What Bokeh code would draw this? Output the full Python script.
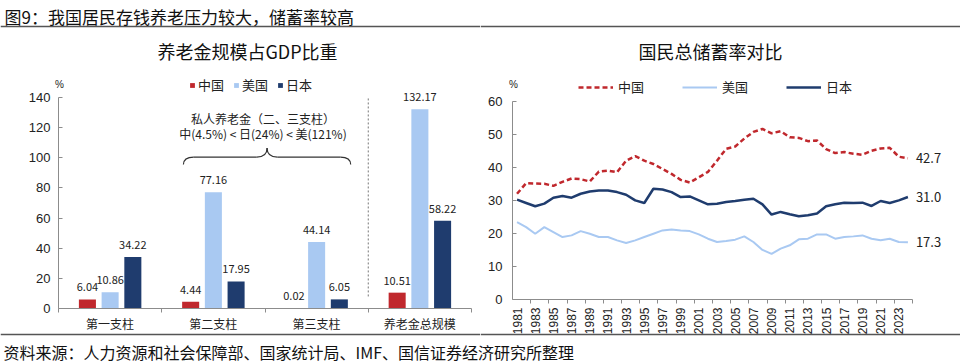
import math
from bokeh.plotting import figure
from bokeh.models import (Range1d, FixedTicker, Legend, LegendItem, Label, LabelSet,
                          ColumnDataSource)
from bokeh.layouts import column, row
from bokeh.transform import dodge
from bokeh.embed import file_html
from bokeh.resources import INLINE
from bokeh.core.properties import value

# ---------------- data ----------------
page_title = "图9：我国居民存钱养老压力较大，储蓄率较高"
source_note = "资料来源：人力资源和社会保障部、国家统计局、IMF、国信证券经济研究所整理"

left_title = "养老金规模占GDP比重"
pillars = ["第一支柱", "第二支柱", "第三支柱", "养老金总规模"]
china_pension = [6.04, 4.44, 0.02, 10.51]
us_pension = [10.86, 77.16, 44.14, 132.17]
japan_pension = [34.22, 17.95, 6.05, 58.22]
brace_note_1 = "私人养老金（二、三支柱）"
brace_note_2 = "中(4.5%) < 日(24%) < 美(121%)"
left_yticks = [0, 20, 40, 60, 80, 100, 120, 140]

right_title = "国民总储蓄率对比"
years = list(range(1981, 2025))
china_saving = [32.0, 35.2, 35.1, 35.0, 34.4, 35.6, 36.6, 36.4, 35.7, 38.7,
                39.0, 38.5, 42.0, 43.4, 42.0, 41.0, 39.5, 38.0, 36.2, 35.4,
                37.0, 38.6, 42.0, 45.6, 46.3, 48.7, 50.7, 51.6, 50.3, 50.9,
                49.1, 48.9, 47.9, 48.1, 45.5, 44.3, 44.6, 44.1, 43.8, 45.0,
                45.7, 45.9, 43.2, 42.7]
us_saving = [23.4, 21.9, 19.9, 21.9, 20.4, 18.9, 19.4, 20.7, 19.9, 18.9,
             18.9, 17.9, 17.1, 17.9, 18.9, 19.9, 20.9, 21.2, 20.9, 20.7,
             19.7, 18.4, 17.4, 17.7, 18.1, 19.1, 17.4, 15.0, 13.8, 15.4,
             16.4, 18.2, 18.4, 19.7, 19.7, 18.4, 18.9, 19.1, 19.4, 18.4,
             17.9, 18.4, 17.4, 17.3]
japan_saving = [30.2, 29.2, 28.2, 29.0, 30.8, 31.3, 30.8, 32.0, 32.7, 33.0,
                33.0, 32.5, 31.7, 30.0, 29.2, 33.5, 33.3, 32.5, 31.0, 31.2,
                30.0, 28.8, 29.0, 29.5, 29.8, 30.2, 30.5, 28.8, 25.7, 26.5,
                25.8, 25.2, 25.5, 26.0, 28.2, 28.8, 29.3, 29.2, 29.3, 28.3,
                29.8, 29.2, 30.0, 31.0]
right_yticks = [0, 10, 20, 30, 40, 50, 60]
year_ticks = years[::2]
series_names = ["中国", "美国", "日本"]

# ---------------- styles ----------------
CJK = "Noto Sans CJK SC"
NUM = "Liberation Sans"
RED = "#C0282D"
LBLUE = "#A9C9F2"
NAVY = "#1F3C6E"
AXIS = "#8C8C8C"
TXT = "#222222"
RULE = "#555555"

BODY_H = 339          # height of the two chart panels (page px)
PANEL_W = 480
HEADER_RULE_Y = 26    # page px
FOOTER_RULE_Y = 334


def bare(fig):
    fig.grid.visible = False
    fig.outline_line_color = None
    fig.background_fill_color = "white"
    fig.border_fill_color = "white"


# ---------------- left panel geometry (page px <-> data) ----------------
L_X0, L_XPU = 58, 103.25      # page x of category 0, px per category
L_Y0, L_YPU = 308, 1.5071     # page y of value 0, px per unit


def lx(px):
    return (px - L_X0) / L_XPU


def ly(py):
    return (L_Y0 - py) / L_YPU


p1 = figure(width=PANEL_W, height=BODY_H,
            x_range=Range1d(lx(0), lx(PANEL_W)), y_range=Range1d(ly(BODY_H), ly(0)),
            output_backend="svg", toolbar_location=None, min_border=0)
bare(p1)

centers = [i + 0.5 for i in range(len(pillars))]
src = ColumnDataSource(dict(
    x=centers, cn=china_pension, us=us_pension, jp=japan_pension,
    cn_l=["%.2f" % v for v in china_pension],
    us_l=["%.2f" % v for v in us_pension],
    jp_l=["%.2f" % v for v in japan_pension],
))
OFF = 0.22
BW = 0.165
r_cn = p1.vbar(x=dodge("x", -OFF), top="cn", width=BW, source=src, fill_color=RED, line_color=None)
r_us = p1.vbar(x=dodge("x", 0), top="us", width=BW, source=src, fill_color=LBLUE, line_color=None)
r_jp = p1.vbar(x=dodge("x", OFF), top="jp", width=BW, source=src, fill_color=NAVY, line_color=None)
for off, fld, lbl in [(-OFF, "cn", "cn_l"), (0, "us", "us_l"), (OFF, "jp", "jp_l")]:
    p1.add_layout(LabelSet(x=dodge("x", off), y=fld, text=lbl, source=src, y_offset=12,
                           text_align="center", text_baseline="middle",
                           text_font=value(CJK), text_font_size="11px", text_color=TXT))

# separator between the pillars and the total
sep_x = len(pillars) - 1
p1.segment(x0=[sep_x], y0=[8], x1=[sep_x], y1=[140], line_color="#777777",
           line_width=1, line_dash="2 2")

# curly brace over the 2nd and 3rd pillar
xl, xr = 1.21, 2.83
xm = (xl + xr) / 2
yb, ym, yt = 95.5, 100.5, 106.5
d = 0.1
p1.quadratic(x0=[xl, xm - d, xm, xr - d], y0=[yb, ym, yt, ym],
             x1=[xl + d, xm, xm + d, xr], y1=[ym, yt, ym, yb],
             cx=[xl, xm, xm, xr], cy=[ym, ym, ym, ym],
             line_color="#333333", line_width=1.2)
p1.segment(x0=[xl + d, xm + d], y0=[ym, ym], x1=[xm - d, xr - d], y1=[ym, ym],
           line_color="#333333", line_width=1.2)
p1.add_layout(Label(x=xm - 0.04, y=ly(118), text=brace_note_1, text_align="center",
                    text_baseline="middle", text_font=CJK, text_font_size="12px", text_color=TXT))
p1.add_layout(Label(x=xm - 0.04, y=ly(133), text=brace_note_2, text_align="center",
                    text_baseline="middle", text_font=CJK, text_font_size="12px", text_color=TXT))

# page header (title + rule), rules continued in right panel
p1.add_layout(Label(x=lx(4), y=ly(15.5), text=page_title, text_align="left", text_baseline="middle",
                    text_font=CJK, text_font_size="17px", text_color="#111111"))
p1.segment(x0=[lx(0)], y0=[ly(HEADER_RULE_Y)], x1=[lx(PANEL_W)], y1=[ly(HEADER_RULE_Y)],
           line_color=RULE, line_width=1.5)
p1.segment(x0=[lx(0)], y0=[ly(FOOTER_RULE_Y)], x1=[lx(PANEL_W)], y1=[ly(FOOTER_RULE_Y)],
           line_color=RULE, line_width=1.5)

p1.add_layout(Label(x=lx(247), y=ly(50), text=left_title, text_align="center", text_baseline="middle",
                    text_font=CJK, text_font_size="18px", text_color="#111111"))
p1.add_layout(Label(x=lx(59), y=ly(84), text="%", text_align="center", text_baseline="middle",
                    text_font=NUM, text_font_size="10px", text_color=TXT))

leg1 = Legend(items=[LegendItem(label=series_names[0], renderers=[r_cn]),
                     LegendItem(label=series_names[1], renderers=[r_us]),
                     LegendItem(label=series_names[2], renderers=[r_jp])],
              orientation="horizontal", location=(189, BODY_H - 94),
              glyph_width=6, glyph_height=6, label_height=14, label_standoff=3,
              spacing=9, padding=0, margin=0, border_line_color=None,
              background_fill_alpha=0, label_text_font=CJK, label_text_font_size="13px",
              label_text_color=TXT)
p1.add_layout(leg1)

p1.yaxis.ticker = FixedTicker(ticks=left_yticks)
p1.yaxis.bounds = (0, 140)
p1.yaxis.fixed_location = 0
p1.xaxis.ticker = FixedTicker(ticks=centers, minor_ticks=list(range(len(pillars) + 1)))
p1.xaxis.bounds = (0, len(pillars))
p1.xaxis.fixed_location = 0
p1.xaxis.major_label_overrides = {c: n for c, n in zip(centers, pillars)}

for ax in p1.xaxis + p1.yaxis:
    ax.axis_line_color = AXIS
    ax.major_tick_line_color = AXIS
    ax.minor_tick_line_color = AXIS
    ax.major_label_text_color = TXT
p1.yaxis.major_tick_in = 4
p1.yaxis.major_tick_out = 0
p1.yaxis.minor_tick_line_color = None
p1.yaxis.major_label_text_font = NUM
p1.yaxis.major_label_text_font_size = "13px"
p1.yaxis.major_label_standoff = 8
p1.xaxis.major_tick_in = 0
p1.xaxis.major_tick_out = 0
p1.xaxis.minor_tick_in = 0
p1.xaxis.minor_tick_out = 4
p1.xaxis.major_label_text_font = CJK
p1.xaxis.major_label_text_font_size = "12px"
p1.xaxis.major_label_standoff = 2

# ---------------- right panel geometry ----------------
R_X0, R_XPU = 512 - PANEL_W, 9.09   # panel-local px of year 1980.5, px per year
R_Y0, R_YPU = 299, 3.305


def rx(px):      # px given in page coordinates
    return 1980.5 + (px - PANEL_W - R_X0) / R_XPU


def ry(py):
    return (R_Y0 - py) / R_YPU


p2 = figure(width=PANEL_W, height=BODY_H,
            x_range=Range1d(rx(PANEL_W), rx(2 * PANEL_W)), y_range=Range1d(ry(BODY_H), ry(0)),
            output_backend="svg", toolbar_location=None, min_border=0)
bare(p2)
l_cn = p2.line(years, china_saving, line_color=RED, line_width=2.5, line_dash="5 3")
l_us = p2.line(years, us_saving, line_color=LBLUE, line_width=2)
l_jp = p2.line(years, japan_saving, line_color=NAVY, line_width=2.5)

end_src = ColumnDataSource(dict(
    x=[years[-1]] * 3,
    y=[china_saving[-1], japan_saving[-1], us_saving[-1]],
    t=["%.1f" % v for v in [china_saving[-1], japan_saving[-1], us_saving[-1]]],
))
p2.add_layout(LabelSet(x="x", y="y", text="t", source=end_src, x_offset=8,
                       text_align="left", text_baseline="middle",
                       text_font=value(CJK), text_font_size="13px", text_color=TXT))

p2.segment(x0=[rx(PANEL_W)], y0=[ry(HEADER_RULE_Y)], x1=[rx(2 * PANEL_W)], y1=[ry(HEADER_RULE_Y)],
           line_color=RULE, line_width=1.5)
p2.segment(x0=[rx(PANEL_W)], y0=[ry(FOOTER_RULE_Y)], x1=[rx(2 * PANEL_W)], y1=[ry(FOOTER_RULE_Y)],
           line_color=RULE, line_width=1.5)

p2.add_layout(Label(x=rx(710), y=ry(50), text=right_title, text_align="center", text_baseline="middle",
                    text_font=CJK, text_font_size="18px", text_color="#111111"))
p2.add_layout(Label(x=rx(513), y=ry(84), text="%", text_align="center", text_baseline="middle",
                    text_font=NUM, text_font_size="10px", text_color=TXT))

leg2 = Legend(items=[LegendItem(label=series_names[0], renderers=[l_cn]),
                     LegendItem(label=series_names[1], renderers=[l_us]),
                     LegendItem(label=series_names[2], renderers=[l_jp])],
              orientation="horizontal", location=(578 - PANEL_W, BODY_H - 96),
              glyph_width=35, glyph_height=14, label_height=14, label_standoff=5,
              spacing=38, padding=0, margin=0, border_line_color=None,
              background_fill_alpha=0, label_text_font=CJK, label_text_font_size="13px",
              label_text_color=TXT)
p2.add_layout(leg2)

p2.yaxis.ticker = FixedTicker(ticks=right_yticks)
p2.yaxis.bounds = (0, 60)
p2.yaxis.fixed_location = 1980.5
p2.xaxis.ticker = FixedTicker(ticks=year_ticks, minor_ticks=[y + 0.5 for y in years[1::2]])
p2.xaxis.bounds = (1980.5, years[-1] + 0.5)
p2.xaxis.fixed_location = 0
for ax in p2.xaxis + p2.yaxis:
    ax.axis_line_color = AXIS
    ax.major_tick_line_color = AXIS
    ax.minor_tick_line_color = AXIS
    ax.major_label_text_color = TXT
    ax.major_label_text_font = NUM
p2.yaxis.major_tick_in = 4
p2.yaxis.major_tick_out = 0
p2.yaxis.minor_tick_line_color = None
p2.yaxis.major_label_text_font_size = "13px"
p2.yaxis.major_label_standoff = 10
p2.xaxis.major_tick_in = 0
p2.xaxis.major_tick_out = 0
p2.xaxis.minor_tick_in = 0
p2.xaxis.minor_tick_out = 4
p2.xaxis.major_label_orientation = math.pi / 2
p2.xaxis.major_label_text_font_size = "12px"
p2.xaxis.major_label_standoff = 4

# ---------------- footer ----------------
FTR_H = 363 - BODY_H
ftr = figure(width=2 * PANEL_W, height=FTR_H, x_range=Range1d(0, 2 * PANEL_W), y_range=Range1d(FTR_H, 0),
             x_axis_type=None, y_axis_type=None, output_backend="svg",
             toolbar_location=None, min_border=0)
bare(ftr)
ftr.text(x=[3], y=[12], text=[source_note], text_font=value(CJK),
         text_font_size="16px", text_baseline="middle", text_color="#111111")

layout = column(row(p1, p2), ftr)
open("out.html", "w").write(file_html(layout, INLINE))
